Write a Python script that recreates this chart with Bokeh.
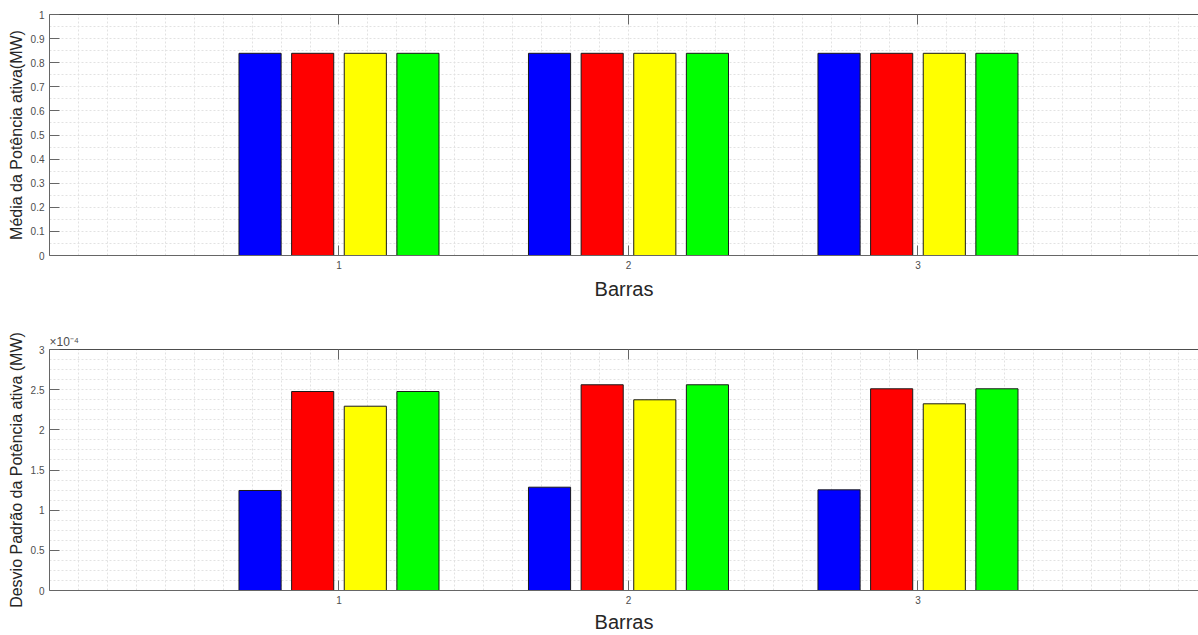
from bokeh.plotting import figure
from bokeh.layouts import column
from bokeh.models import (FixedTicker, SingleIntervalTicker, LinearAxis, Title,
                          Range1d, CustomJSTickFormatter, ColumnDataSource)
from bokeh.transform import dodge
from bokeh.embed import file_html
from bokeh.resources import INLINE

# ---------------- data ----------------
barras = [1, 2, 3]
x_ticks = [1, 2, 3]

media_azul = [0.839, 0.839, 0.839]
media_vermelho = [0.839, 0.839, 0.839]
media_amarelo = [0.839, 0.839, 0.839]
media_verde = [0.839, 0.839, 0.839]

desvio_azul = [1.245e-4, 1.286e-4, 1.253e-4]
desvio_vermelho = [2.477e-4, 2.561e-4, 2.511e-4]
desvio_amarelo = [2.294e-4, 2.374e-4, 2.324e-4]
desvio_verde = [2.477e-4, 2.561e-4, 2.511e-4]

media_ticks = [0, 0.1, 0.2, 0.3, 0.4, 0.5, 0.6, 0.7, 0.8, 0.9, 1.0]
desvio_ticks = [0, 0.5e-4, 1.0e-4, 1.5e-4, 2.0e-4, 2.5e-4, 3.0e-4]

cores = ["#0000ff", "#ff0000", "#ffff00", "#00ff00"]
# MATLAB grouped-bar geometry for 4 series
offsets = [-0.2727, -0.0909, 0.0909, 0.2727]
bar_w = 0.1455

FONT = "Liberation Sans"
TICK_COLOR = "#4d4d4d"
AX_COLOR = "#666666"
LABEL_COLOR = "#262626"

X_END = 3.969


def styled(height, top_border, bottom_border, xlab_standoff, yr, ylabel,
           y_ticks, y_grid, fmt_code):
    p = figure(width=1198, height=height, x_range=Range1d(0, X_END),
               y_range=Range1d(*yr), output_backend="svg",
               toolbar_location=None, min_border_left=49,
               min_border_right=0, min_border_top=top_border,
               min_border_bottom=bottom_border, outline_line_color=None,
               background_fill_color="white", border_fill_color="white")
    # x axis
    p.xaxis.ticker = FixedTicker(ticks=x_ticks)
    p.xaxis.major_tick_in = 10
    p.xaxis.major_tick_out = 0
    p.xaxis.minor_tick_in = 0
    p.xaxis.minor_tick_out = 0
    p.xaxis.major_label_standoff = 5
    p.xaxis.axis_label = "Barras"
    p.xaxis.axis_label_standoff = xlab_standoff
    p.xaxis.axis_label_text_font = FONT
    p.xaxis.axis_label_text_font_size = "20px"
    p.xaxis.axis_label_text_font_style = "normal"
    p.xaxis.axis_label_text_color = LABEL_COLOR
    # y axis
    p.yaxis.ticker = FixedTicker(ticks=y_ticks)
    p.yaxis.formatter = CustomJSTickFormatter(code=fmt_code)
    p.yaxis.major_tick_in = 10
    p.yaxis.major_tick_out = 0
    p.yaxis.minor_tick_in = 0
    p.yaxis.minor_tick_out = 0
    p.yaxis.major_label_standoff = 5
    p.yaxis.axis_label = ylabel
    p.yaxis.axis_label_standoff = 3
    p.yaxis.axis_label_text_font = FONT
    p.yaxis.axis_label_text_font_size = "16px"
    p.yaxis.axis_label_text_font_style = "normal"
    p.yaxis.axis_label_text_color = LABEL_COLOR
    for ax in (p.xaxis, p.yaxis):
        ax.major_label_text_font = FONT
        ax.major_label_text_font_size = "10px"
        ax.major_label_text_color = TICK_COLOR
        ax.axis_line_color = AX_COLOR
        ax.major_tick_line_color = AX_COLOR
    # top border with mirrored ticks
    top = LinearAxis(ticker=FixedTicker(ticks=x_ticks),
                     formatter=CustomJSTickFormatter(code="return ''"),
                     major_tick_in=10, major_tick_out=0,
                     minor_tick_in=0, minor_tick_out=0,
                     major_label_standoff=0,
                     major_label_text_font_size="1px",
                     axis_line_color="#4d4d4d",
                     major_tick_line_color=AX_COLOR)
    p.add_layout(top, "above")
    # grids (dotted, fine)
    p.xgrid.ticker = SingleIntervalTicker(interval=0.1, num_minor_ticks=0)
    p.ygrid.ticker = SingleIntervalTicker(interval=y_grid, num_minor_ticks=0)
    for g in (p.xgrid, p.ygrid):
        g.grid_line_color = "#e2e2e2"
        g.grid_line_dash = "2 2"
        g.grid_line_width = 1
    return p


def add_bars(p, series):
    src = ColumnDataSource(dict(barras=barras, s0=series[0], s1=series[1],
                                s2=series[2], s3=series[3]))
    for i, col in enumerate(["s0", "s1", "s2", "s3"]):
        p.vbar(x=dodge("barras", offsets[i]), top=col, bottom=0, width=bar_w,
               source=src, fill_color=cores[i], line_color="#1a1a1a",
               line_width=1)


# ---------------- top chart ----------------
p1 = styled(302, 14, 47, 6, (0, 1), "Média da Potência ativa(MW)",
            media_ticks, 0.05,
            "return String(Math.round(tick*100)/100);")
add_bars(p1, [media_azul, media_vermelho, media_amarelo, media_verde])

# ---------------- bottom chart ----------------
p2 = styled(333, 47, 44, 4, (0, 3e-4), "Desvio Padrão da Potência ativa (MW)",
            desvio_ticks, 0.125e-4,
            "return String(Math.round(tick*1e4*100)/100);")
add_bars(p2, [desvio_azul, desvio_vermelho, desvio_amarelo, desvio_verde])

p2.add_layout(Title(text="\u00d710\u207b\u2074", align="left",
                    text_font=FONT, text_font_size="12px",
                    text_font_style="normal", text_color=TICK_COLOR,
                    offset=0, standoff=2), "above")

layout = column(p1, p2, spacing=0)
open("out.html", "w").write(file_html(layout, INLINE))
